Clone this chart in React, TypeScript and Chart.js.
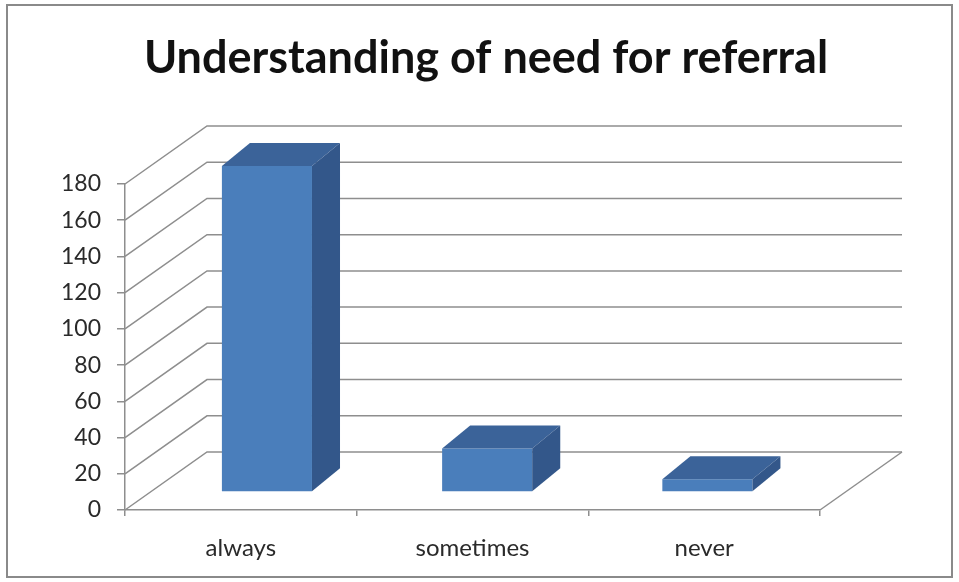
import React, { useEffect, useRef } from "react";
import { Chart, registerables } from "chart.js";

Chart.register(...registerables);

// ---- data ----
const TITLE = "Understanding of need for referral";
const CATEGORIES = ["always", "sometimes", "never"];
const VALUES = [180, 24, 7];
const Y_MIN = 0;
const Y_MAX = 180;
const Y_STEP = 20;

// ---- layout / style ----
const W = 959;
const H = 582;
const PLOT_LEFT = 125;
const PLOT_RIGHT = 820;
const PLOT_TOP = 184;
const PLOT_BOTTOM = 510;
const WALL_DX = 82;
const WALL_DY = -58;
const BAR_SCALE_X = 0.9506;
const BAR_SHIFT_X = 38;
const BAR_SHIFT_Y = -18;
const BAR_DX = 29.5;
const BAR_DY = -23;
const GRID = "#8e8e8e";
const FRONT = "#4a7ebb";
const TOP = "#3b6399";
const SIDE = "#33578a";
const FONT = "Lato";

const threeD = {
  id: "threeD",
  beforeDraw(chart: any) {
    const ctx = chart.ctx;
    ctx.save();
    ctx.fillStyle = "#ffffff";
    ctx.fillRect(0, 0, chart.width, chart.height);
    ctx.restore();
  },
  beforeDatasetsDraw(chart: any) {
    const ctx = chart.ctx;
    const ys = chart.scales.y;
    const xs = chart.scales.x;
    const l = xs.left;
    const r = xs.right;
    ctx.save();
    ctx.strokeStyle = GRID;
    ctx.lineWidth = 1.5;
    for (let v = Y_MIN; v <= Y_MAX; v += Y_STEP) {
      const py = ys.getPixelForValue(v);
      ctx.beginPath();
      ctx.moveTo(l, py);
      ctx.lineTo(l + WALL_DX, py + WALL_DY);
      ctx.lineTo(r + WALL_DX, py + WALL_DY);
      ctx.stroke();
    }
    const p0 = ys.getPixelForValue(Y_MIN);
    ctx.beginPath();
    ctx.moveTo(r, p0);
    ctx.lineTo(r + WALL_DX, p0 + WALL_DY);
    ctx.stroke();
    ctx.restore();
    // projection of the bar row (sits at mid depth)
    ctx.save();
    ctx.translate(BAR_SHIFT_X, BAR_SHIFT_Y);
    ctx.scale(BAR_SCALE_X, 1);
  },
  afterDatasetsDraw(chart: any) {
    const ctx = chart.ctx;
    const meta = chart.getDatasetMeta(0);
    meta.data.forEach((bar: any) => {
      const { x, y, base, width } = bar.getProps(["x", "y", "base", "width"], true);
      const x1 = x - width / 2;
      const x2 = x + width / 2;
      ctx.fillStyle = TOP;
      ctx.beginPath();
      ctx.moveTo(x1, y);
      ctx.lineTo(x2, y);
      ctx.lineTo(x2 + BAR_DX, y + BAR_DY);
      ctx.lineTo(x1 + BAR_DX, y + BAR_DY);
      ctx.closePath();
      ctx.fill();
      ctx.fillStyle = SIDE;
      ctx.beginPath();
      ctx.moveTo(x2, y);
      ctx.lineTo(x2 + BAR_DX, y + BAR_DY);
      ctx.lineTo(x2 + BAR_DX, base + BAR_DY);
      ctx.lineTo(x2, base);
      ctx.closePath();
      ctx.fill();
    });
    ctx.restore();
  },
  afterDraw(chart: any) {
    const ctx = chart.ctx;
    ctx.save();
    ctx.strokeStyle = "#8a8a8a";
    ctx.lineWidth = 2;
    ctx.strokeRect(7, 5, 945, 572);
    ctx.fillStyle = "#111111";
    ctx.font = `bold 45px ${FONT}`;
    ctx.textAlign = "center";
    ctx.textBaseline = "alphabetic";
    ctx.fillText(TITLE, 486, 73);
    ctx.restore();
  },
};

export default function App() {
  const ref = useRef<HTMLCanvasElement | null>(null);
  useEffect(() => {
    let chart: Chart | null = null;
    let cancelled = false;
    const make = () => {
      if (cancelled || !ref.current) return;
      chart = new Chart(ref.current, {
        type: "bar",
        data: {
          labels: CATEGORIES,
          datasets: [
            {
              data: VALUES,
              backgroundColor: FRONT,
              borderWidth: 0,
              barPercentage: 0.409,
              categoryPercentage: 1,
              clip: false as any,
            },
          ],
        },
        options: {
          responsive: false,
          animation: false,
          events: [],
          layout: {
            padding: { left: 0, top: PLOT_TOP, right: W - PLOT_RIGHT, bottom: 0 },
          },
          plugins: {
            legend: { display: false },
            tooltip: { enabled: false },
            title: { display: false },
          },
          scales: {
            x: {
              grid: {
                offset: true,
                drawOnChartArea: false,
                drawTicks: true,
                tickLength: 6,
                color: GRID,
                lineWidth: 1.5,
              },
              border: { display: true, color: GRID, width: 1.5 },
              ticks: {
                color: "#2a2a2a",
                font: { family: FONT, size: 24 },
                padding: 18,
              },
              afterFit(scale: any) {
                scale.height = H - PLOT_BOTTOM;
              },
            },
            y: {
              min: Y_MIN,
              max: Y_MAX,
              grid: {
                drawOnChartArea: false,
                drawTicks: true,
                tickLength: 8,
                color: GRID,
                lineWidth: 1.5,
              },
              border: { display: true, color: GRID, width: 1.5 },
              ticks: {
                stepSize: Y_STEP,
                color: "#2a2a2a",
                font: { family: FONT, size: 23 },
                padding: 16,
              },
              afterFit(scale: any) {
                scale.width = PLOT_LEFT;
              },
            },
          },
        },
        plugins: [threeD],
      });
    };
    const fonts = (document as any).fonts;
    if (fonts && fonts.load) {
      Promise.all([
        fonts.load(`bold 45px ${FONT}`),
        fonts.load(`24px ${FONT}`),
      ]).then(make, make);
    } else {
      make();
    }
    return () => {
      cancelled = true;
      if (chart) chart.destroy();
    };
  }, []);
  return (
    <div style={{ position: "absolute", left: 0, top: 0, width: W, height: H }}>
      <canvas ref={ref} width={W} height={H} />
    </div>
  );
}
